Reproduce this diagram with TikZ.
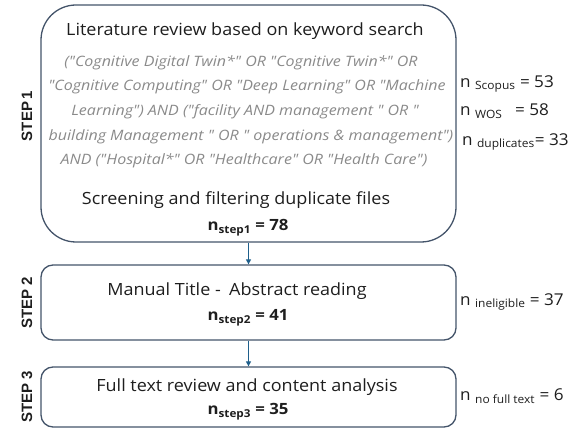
\documentclass[tikz,border=0pt]{standalone}
\usepackage{fontspec}
\setmainfont{Open Sans}
\newfontfamily\mainwide{Open Sans}[FakeStretch=1.07]
\newfontfamily\querywide{Open Sans}[FakeStretch=1.12]
\newfontfamily\countwide{Open Sans}[FakeStretch=1.08]
\newfontfamily\sidewide{Open Sans}[FakeStretch=1.05]
\newfontfamily\stepfont{Liberation Sans}
\usetikzlibrary{arrows.meta}
\definecolor{boxline}{HTML}{44546A}
\definecolor{arrowc}{HTML}{1F5F8B}
\definecolor{qgrey}{HTML}{8A8A8A}
\definecolor{txt}{HTML}{1E1E1E}
\tikzset{
  stagebox/.style={draw=boxline, line width=1.3pt, minimum width=415pt, inner sep=0pt},
  steplabel/.style={rotate=90, font=\stepfont\bfseries\fontsize{15}{15}\selectfont, text=txt},
  maintext/.style={font=\mainwide\fontsize{16.8}{18}\selectfont, text=txt, inner sep=0pt},
  querytext/.style={font=\querywide\itshape\fontsize{14.3}{15}\selectfont, text=qgrey, inner sep=0pt},
  counttext/.style={font=\countwide\bfseries\fontsize{15.5}{16}\selectfont, text=txt, inner sep=0pt},
  sidetext/.style={font=\sidewide\fontsize{16.3}{18}\selectfont, text=txt, inner sep=0pt, anchor=west},
  flow/.style={draw=arrowc, line width=1.3pt, -{Triangle[length=5pt,width=5pt]}}
}
\begin{document}
\begin{tikzpicture}[x=1pt,y=-1pt]
\useasboundingbox (0,0) rectangle (581,430);
% boxes
\node[stagebox, rounded corners=35pt, minimum height=237pt] (box1) at (248.5,123.5) {};
\node[stagebox, rounded corners=12pt, minimum height=75pt] (box2) at (248.5,302.5) {};
\node[stagebox, rounded corners=12pt, minimum height=60pt] (box3) at (248.5,397) {};
% step labels
\node[steplabel] (s1) at (27,116) {STEP\kern2.5pt 1};
\node[steplabel] (s2) at (27,303) {STEP 2};
\node[steplabel] (s3) at (27,397) {STEP 3};
% box 1 texts
\node[maintext] (t1) at (245,31) {Literature review based on keyword search};
\node[querytext] (q1) at (241,63) {("Cognitive Digital Twin*" OR "Cognitive Twin*" OR};
\node[querytext] (q2) at (247,87) {"Cognitive Computing" OR "Deep Learning" OR "Machine};
\node[querytext] (q3) at (245,112) {Learning") AND ("facility AND management " OR "};
\node[querytext] (q4) at (251,137) {building Management " OR " operations \& management")};
\node[querytext] (q5) at (244,161) {AND ("Hospital*" OR "Healthcare" OR "Health Care")};
\node[maintext] (t2) at (236,200) {Screening and filtering duplicate files};
\node[counttext] (c1) at (248,228) {n\textsubscript{step1} = 78};
% box 2 texts
\node[maintext] (t3) at (237,291) {Manual Title -\enspace Abstract reading};
\node[counttext] (c2) at (248,318) {n\textsubscript{step2} = 41};
% box 3 texts
\node[maintext] (t4) at (247,387) {Full text review and content analysis};
\node[counttext] (c3) at (248,412) {n\textsubscript{step3} = 35};
% side counts
\node[sidetext] (n1) at (460,84) {n \textsubscript{Scopus} = 53};
\node[sidetext] (n2) at (460,111) {n \textsubscript{WOS}\enspace\ = 58};
\node[sidetext] (n3) at (462,142) {n \textsubscript{duplicates}= 33};
\node[sidetext] (n4) at (460,302) {n \textsubscript{ineligible} = 37};
\node[sidetext] (n5) at (460,396) {n \textsubscript{no full text} = 6};
% arrows
\draw[flow] (box1.south) -- (box2.north);
\draw[flow] (box2.south) -- (box3.north);
\end{tikzpicture}
\end{document}
